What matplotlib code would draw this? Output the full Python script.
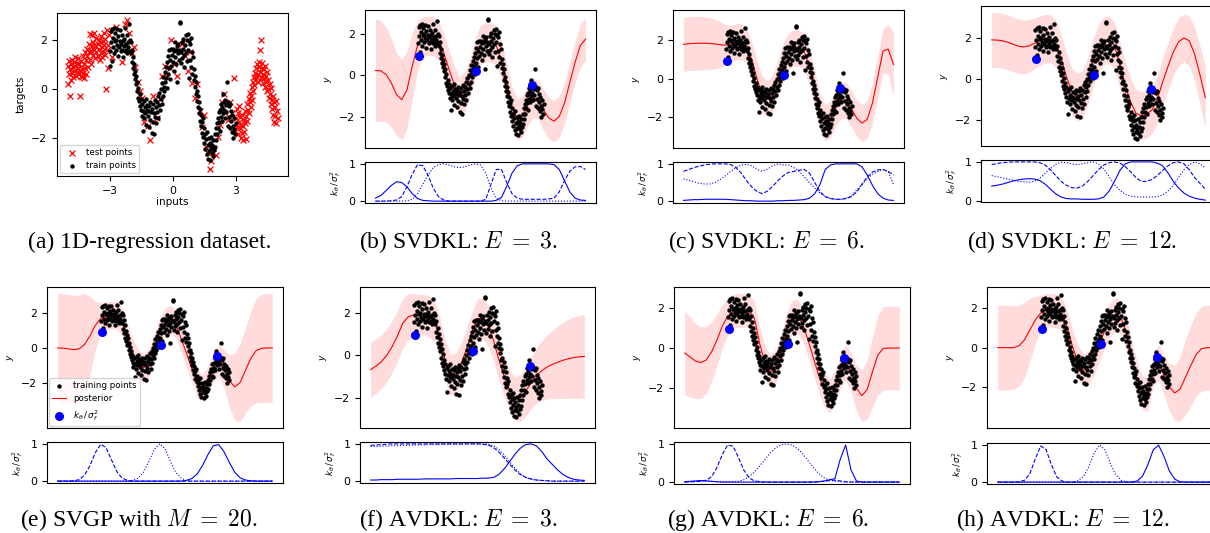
import matplotlib.pyplot as plt
import numpy as np

plt.rcParams['font.family'] = ['DejaVu Sans']
plt.rcParams['axes.linewidth'] = 0.8

W, H = 1210, 533

# common x grid of the GP curves
xs = np.linspace(-5, 5, 41)

# training data (black dots)
train_x = [-3.00, -2.98, -2.95, -2.93, -2.90, -2.88, -2.85, -2.83, -2.80, -2.78, -2.75, -2.72, -2.70, -2.68, -2.65, -2.62, -2.60, -2.58, -2.55, -2.52,
           -2.50, -2.47, -2.45, -2.42, -2.40, -2.37, -2.35, -2.32, -2.30, -2.27, -2.25, -2.22, -2.20, -2.17, -2.15, -2.12, -2.10, -2.07, -2.05, -2.02,
           -2.00, -1.97, -1.95, -1.92, -1.90, -1.87, -1.85, -1.82, -1.80, -1.77, -1.75, -1.72, -1.70, -1.67, -1.65, -1.62, -1.60, -1.57, -1.55, -1.52,
           -1.50, -1.47, -1.45, -1.42, -1.40, -1.37, -1.35, -1.32, -1.30, -1.27, -1.25, -1.22, -1.20, -1.17, -1.15, -1.12, -1.10, -1.07, -1.05, -1.02,
           -1.00, -0.97, -0.95, -0.92, -0.90, -0.87, -0.85, -0.82, -0.80, -0.77, -0.75, -0.72, -0.70, -0.67, -0.65, -0.62, -0.60, -0.57, -0.55, -0.52,
           -0.50, -0.47, -0.45, -0.42, -0.40, -0.37, -0.35, -0.32, -0.30, -0.27, -0.25, -0.22, -0.20, -0.17, -0.15, -0.12, -0.10, -0.07, -0.05, -0.02,
           0.00, 0.03, 0.05, 0.08, 0.10, 0.12, 0.15, 0.18, 0.20, 0.22, 0.25, 0.28, 0.30, 0.33, 0.35, 0.37, 0.40, 0.42, 0.45, 0.47,
           0.50, 0.52, 0.55, 0.57, 0.60, 0.62, 0.65, 0.67, 0.70, 0.72, 0.75, 0.77, 0.80,
           0.82, 0.85, 0.87, 0.90, 0.92, 0.95, 0.97, 1.00, 1.02, 1.05, 1.07, 1.10, 1.12, 1.15, 1.17, 1.20, 1.22, 1.25, 1.27, 1.30,
           1.32, 1.35, 1.37, 1.40, 1.42, 1.45, 1.47,
           1.50, 1.52, 1.55, 1.57, 1.60, 1.62, 1.65, 1.67, 1.70, 1.72, 1.75, 1.77, 1.80, 1.82, 1.85, 1.87, 1.90, 1.92, 1.95, 1.97,
           2.00, 2.02, 2.05, 2.07,
           2.10, 2.12, 2.15, 2.17, 2.20, 2.22, 2.25, 2.27, 2.30, 2.32, 2.35, 2.37, 2.40, 2.42, 2.45, 2.47, 2.50, 2.52, 2.55, 2.57,
           2.60, 2.62, 2.65, 2.67, 2.70, 2.72, 2.75, 2.77, 2.80, 2.82, 2.85, 2.87, 2.90, 2.92, 2.95, 2.97, 3.00]
train_y = [0.95, 1.55, 2.35, 1.9, 1.15, 2.45, 1.7, 2.1, 2.5, 1.45, 1.95, 2.3, 1.6, 2.0, 1.8, 2.45, 1.35, 2.15, 1.7, 1.95,
           2.4, 1.55, 1.85, 2.2, 1.6, 1.95, 1.3, 1.75, 2.05, 1.55, 2.5, 1.85, 1.6, 2.2, 1.45, 1.9, 1.7, 2.65, 1.55, 2.0,
           1.45, 1.9, 1.1, 1.6, 0.85, 1.3, 0.6, 1.0, 0.4, 0.75, 0.2, 0.55, -0.1, 0.3, -0.35, 0.05, -0.5, -0.2, -0.7, -0.4,
           -0.85, -1.1, -0.6, -1.7, -0.9, -0.5, -1.2, -0.75, -1.0, -0.4, -1.45, -0.85, -0.65, -1.1, -0.9, -1.55, -0.7, -1.25, -0.55, -0.95,
           -1.8, -0.8, -1.35, -0.6, -1.0, -1.85, -0.45, -1.15, -0.75, -1.4, -0.55, -0.95, -0.3, -1.2, -0.65, -0.15, -0.85, -0.4, 0.0, -0.6,
           0.25, -0.3, 0.5, 0.1, -0.1, 0.7, 0.3, 0.9, 0.45, 0.05, 1.1, 0.6, 1.35, 0.85, 1.6, 0.4, 1.2, 1.65, 0.95, 1.4,
           1.65, 1.1, 1.55, 0.75, 1.9, 1.3, 1.6, 1.0, 1.75, 0.3, 1.45, 1.85, 1.2, 1.6, 2.7, 2.75, 1.05, 1.5, 1.9, 1.25,
           1.65, 2.05, 1.4, 0.9, 1.8, 2.2, 1.5, 2.0, 1.15, 2.25, 1.6, 1.95, 0.45,
           1.85, 1.2, 2.1, 0.9, 1.5, 0.6, 1.3, 0.35, 0.8, 0.1, 0.55, -0.2, 0.3, -0.5, -0.1, -0.75, -0.3, -1.0, -0.55, -1.3,
           -0.8, -1.5, -1.05, -1.35, -1.8, -1.2, -1.95,
           -1.6, -2.2, -1.85, -2.45, -2.05, -2.65, -1.75, -2.3, -2.85, -2.0, -2.55, -2.2, -2.9, -2.4, -1.95, -2.6, -2.3, -2.75, -2.1, -2.5,
           -1.85, -2.35, -1.6, -2.1,
           -1.4, -1.85, -1.2, -1.6, -0.95, -1.35, -1.7, -0.85, -1.15, -0.6, -1.3, -0.75, -0.2, -1.0, -0.55, -0.85, -0.45, -1.2, -0.65, -0.95,
           0.3, -0.55, -1.5, -0.7, -1.15, -0.6, -1.6, -0.9, -1.3, -1.75, -1.05, -1.5, -2.0, -1.2, -1.65, -1.85, -1.4]

# test data (red crosses)
test_x = [-5.00, -4.98, -4.95, -4.93, -4.90, -4.88, -4.85, -4.82, -4.80, -4.77, -4.75, -4.72, -4.70, -4.67, -4.65, -4.62, -4.60, -4.57, -4.55, -4.52,
          -4.50, -4.47, -4.45, -4.42, -4.40, -4.37, -4.35, -4.32, -4.30, -4.27, -4.25, -4.22, -4.20, -4.17, -4.15, -4.12, -4.10, -4.07, -4.05, -4.02,
          -4.00, -3.97, -3.95, -3.92, -3.90, -3.87, -3.85, -3.82, -3.80, -3.77, -3.75, -3.72, -3.70, -3.67, -3.65, -3.62, -3.57, -3.55, -3.52, -3.50,
          -3.47, -3.45, -3.42, -3.40, -3.37, -3.35, -3.32, -3.30, -3.27, -3.25, -3.22, -3.20, -3.16, -3.12, -3.10, -3.07, -3.05, -3.02,
          -2.90, -2.70, -2.40, -2.25, -2.15, -2.05, -1.95, -1.85, -1.78, -1.65, -1.55, -1.45, -1.35, -1.15, -1.05, -0.95, -0.75, -0.60, -0.50, -0.35,
          -0.25, -0.10, -0.05, 0.05, 0.20, 0.30, 0.45, 0.60, 0.75, 0.85, 0.95, 1.05, 1.15, 1.30, 1.40, 1.50, 1.60, 1.70, 1.78, 1.85,
          1.95, 2.05, 2.15, 2.25, 2.35, 2.45, 2.50, 2.62, 2.75, 2.85, 2.95, 2.98,
          3.02, 3.05, 3.07, 3.10, 3.12, 3.15, 3.17, 3.20, 3.22, 3.25, 3.27, 3.30, 3.32, 3.35, 3.37, 3.40, 3.42, 3.45, 3.47, 3.50,
          3.52, 3.55, 3.57, 3.60, 3.62, 3.65, 3.67, 3.70, 3.72, 3.75, 3.77, 3.80, 3.82, 3.85, 3.87, 3.90, 3.92, 3.95, 3.97, 4.00,
          4.02, 4.05, 4.07, 4.10, 4.12, 4.15, 4.17, 4.20, 4.22, 4.25, 4.27, 4.30, 4.32, 4.35, 4.37, 4.40, 4.42, 4.45, 4.47, 4.50,
          4.52, 4.55, 4.57, 4.60, 4.62, 4.65, 4.67, 4.70, 4.72, 4.75, 4.77, 4.80, 4.82, 4.85, 4.87, 4.90, 4.92, 4.95, 4.97, 5.00]
test_y = [0.2, 0.95, 0.6, 1.15, -0.3, 0.8, 0.35, 1.0, 0.65, 1.2, 0.9, 0.5, 1.1, 0.75, 1.3, 0.95, 0.55, 1.05, 0.7, 1.25,
          0.85, 0.6, 1.0, -0.3, 0.75, 0.55, 1.15, 0.8, 0.5, 1.35, 0.65, 1.0, 0.45, 1.5, 0.85, 1.2, 0.6, 1.65, 1.35, 0.9,
          1.5, 1.85, 1.2, 2.25, 1.55, 1.0, 1.75, 2.2, 1.4, 1.9, 1.6, 2.3, 1.25, 1.75, 2.1, 1.5, 1.85, 1.35, 2.0, 1.65,
          1.2, 1.9, 1.45, 2.15, 1.7, 1.3, 1.95, 1.55, 2.3, 1.8, 1.4, 2.05, 0.0, 1.6, 2.4, 0.85, 1.8, 2.2,
          1.3, 2.55, 1.1, 2.65, 2.8, 2.3, 1.45, 1.7, 0.9, 0.3, -0.1, -0.35, -1.35, -1.5, -2.1, -0.3, -1.2, -0.4, 0.55, 0.95,
          0.5, 0.85, 2.0, 1.0, 0.55, 1.55, 1.85, 1.35, 0.75, 1.5, 0.25, -0.35, 0.2, -0.9, -1.55, -1.05, -2.35, -2.6, -3.25, -2.95,
          -2.4, -2.7, -1.95, -1.45, -0.55, -0.2, -1.0, -1.25, -0.55, -1.0, 0.45, -1.7,
          -1.2, -0.8, -1.55, -1.0, -1.85, -1.35, -0.7, -1.6, -1.15, -2.0, -1.45, -1.8, -1.05, -2.1, -1.5, -1.25, -1.75, -0.9, -1.4, -2.05,
          -1.1, -0.6, -1.3, -0.85, -0.4, -1.0, -0.55, -0.15, -0.75, -0.3, 0.1, -0.45, 0.3, -0.1, 0.5, 0.15, 0.65, 0.35, 0.85, 0.5,
          1.0, 0.6, 0.3, 0.9, 1.1, 0.7, 1.6, 2.0, 0.45, 0.85, 1.05, 0.6, 0.25, 0.8, 0.45, 0.95, 0.1, 0.55, 0.3, 0.7,
          -0.1, 0.35, 0.0, -0.35, 0.2, -0.2, -0.6, 0.05, -0.45, -0.8, -0.3, -1.05, -0.55, -1.35, -0.75, -1.1, -0.5, -1.4, -0.9, -1.2]

# inducing / feature points (blue)
ind_x = [-2.92, -0.2, 2.44]
ind_y = [0.95, 0.2, -0.49]

# ---- (b) SVDKL E=3
mean_b = [0.24, 0.22, 0.05, -0.36, -0.93, -1.18, -0.7, 0.45, 1.45,
          1.85, 1.92, 1.9, 1.68, 1.1, 0.3, -0.45, -1.0, -0.8, -0.1, 0.85, 1.5,
          1.6, 1.6, 1.45, 0.7, -0.35, -1.5, -2.15, -2.0, -1.42, -1.1, -1.18, -1.67,
          -2.07, -2.22, -2.0, -1.34, -0.36, 0.62, 1.44, 1.76]
sd_b = [2.5, 2.45, 2.3, 2.15, 2.0, 1.95, 1.9, 1.6, 1.2,
        1.0, 0.95, 0.95, 0.95, 0.95, 0.95, 0.95, 0.95, 0.95, 0.95, 0.95, 0.95,
        0.95, 0.95, 0.95, 0.95, 0.95, 0.95, 1.0, 1.0, 1.0, 0.95, 0.95, 1.0,
        1.0, 1.0, 1.0, 1.0, 1.0, 1.02, 1.05, 1.05]
ks_b = [0.08, 0.15, 0.28, 0.42, 0.52, 0.5, 0.38, 0.2, 0.07,
        0.02, 0.01, 0, 0, 0, 0, 0, 0, 0, 0, 0, 0,
        0, 0, 0.02, 0.1, 0.4, 0.75, 0.95, 1.0, 1.0, 1.0, 1.0, 1.0,
        1.0, 0.98, 0.85, 0.55, 0.25, 0.08, 0.03, 0.02]
kd_b = [0, 0, 0, 0.01, 0.03, 0.12, 0.39, 0.72, 0.98,
        0.95, 0.7, 0.35, 0.12, 0.03, 0, 0, 0, 0, 0, 0, 0,
        0.05, 0.45, 0.85, 0.85, 0.5, 0.2, 0.08, 0.05, 0.05, 0.05, 0.05, 0.05,
        0.06, 0.08, 0.25, 0.55, 0.8, 0.92, 0.93, 0.85]
kt_b = [0, 0, 0, 0, 0, 0, 0.01, 0.05, 0.2,
        0.45, 0.7, 0.9, 0.98, 1.0, 0.97, 0.92, 0.9, 0.92, 0.97, 1.0, 0.97,
        0.75, 0.35, 0.07, 0.01, 0, 0, 0, 0, 0, 0, 0, 0,
        0, 0, 0, 0, 0, 0, 0, 0]

# ---- (c) SVDKL E=6
mean_c = [1.8, 1.83, 1.85, 1.86, 1.86, 1.85, 1.82, 1.78, 1.76,
          1.82, 1.93, 1.95, 1.75, 1.0, 0.0, -0.8, -1.05, -0.75, 0.1, 0.9, 1.45,
          1.6, 1.6, 1.4, 0.6, -0.5, -1.7, -2.3, -2.1, -1.5, -1.1, -1.15, -1.55,
          -2.05, -2.3, -2.1, -1.25, 0.1, 1.45, 1.55, 0.75]
sd_c = [1.4, 1.4, 1.4, 1.4, 1.38, 1.35, 1.3, 1.2, 1.05,
        0.95, 0.95, 0.95, 0.95, 0.95, 0.95, 0.95, 0.95, 0.95, 0.95, 0.95, 0.95,
        0.95, 0.95, 0.95, 0.95, 0.95, 0.95, 0.95, 0.95, 0.95, 0.95, 0.95, 0.95,
        0.95, 0.97, 1.0, 1.05, 1.1, 1.15, 1.3, 1.65]
ks_c = [0.02, 0.03, 0.04, 0.04, 0.05, 0.05, 0.05, 0.05, 0.05,
        0.04, 0.03, 0.02, 0.01, 0.01, 0, 0, 0, 0, 0.01, 0.01, 0.02,
        0.02, 0.03, 0.04, 0.08, 0.2, 0.45, 0.85, 0.97, 1.0, 1.0, 1.0, 1.0,
        1.0, 0.92, 0.7, 0.42, 0.2, 0.08, 0.03, 0.02]
kd_c = [0.8, 0.85, 0.9, 0.94, 0.97, 0.99, 1.0, 1.0, 1.0,
        0.98, 0.9, 0.75, 0.55, 0.38, 0.26, 0.2, 0.27, 0.4, 0.55, 0.68, 0.77,
        0.8, 0.83, 0.85, 0.75, 0.5, 0.25, 0.12, 0.07, 0.05, 0.05, 0.07, 0.12,
        0.25, 0.45, 0.65, 0.78, 0.84, 0.85, 0.8, 0.7]
kt_c = [0.6, 0.56, 0.52, 0.48, 0.46, 0.46, 0.5, 0.58, 0.68,
        0.8, 0.9, 0.97, 0.99, 0.95, 0.85, 0.8, 0.86, 0.95, 1.0, 0.97, 0.97,
        0.9, 0.8, 0.65, 0.5, 0.35, 0.22, 0.12, 0.07, 0.05, 0.05, 0.08, 0.15,
        0.3, 0.45, 0.6, 0.72, 0.8, 0.85, 0.78, 0.45]

# ---- (d) SVDKL E=12
mean_d = [1.89, 1.88, 1.85, 1.78, 1.68, 1.58, 1.55, 1.6, 1.72,
          1.85, 1.95, 1.95, 1.7, 1.0, 0.1, -0.6, -0.9, -0.75, -0.1, 0.8, 1.5,
          1.85, 1.9, 1.6, 0.7, -0.3, -1.1, -1.65, -1.78, -1.7, -1.5, -1.0, -0.15,
          0.6, 1.3, 1.8, 1.98, 1.85, 1.2, 0.2, -0.9]
sd_d = [1.33, 1.33, 1.33, 1.32, 1.32, 1.32, 1.3, 1.27, 1.22,
        1.2, 1.18, 1.15, 1.15, 1.15, 1.15, 1.15, 1.15, 1.15, 1.15, 1.15, 1.15,
        1.15, 1.15, 1.15, 1.15, 1.15, 1.15, 1.15, 1.15, 1.15, 1.15, 1.15, 1.15,
        1.15, 1.15, 1.15, 1.15, 1.2, 1.3, 1.4, 1.5]
ks_d = [0.38, 0.4, 0.43, 0.47, 0.51, 0.54, 0.56, 0.57, 0.56,
        0.52, 0.43, 0.3, 0.18, 0.1, 0.06, 0.05, 0.05, 0.04, 0.04, 0.04, 0.05,
        0.1, 0.25, 0.5, 0.78, 0.95, 1.0, 1.0, 1.0, 1.0, 1.0, 0.97, 0.9,
        0.72, 0.5, 0.33, 0.2, 0.12, 0.07, 0.04, 0.02]
kd_d = [0.93, 0.96, 0.98, 0.99, 1.0, 1.0, 1.0, 1.0, 1.0,
        0.98, 0.92, 0.8, 0.65, 0.5, 0.4, 0.34, 0.33, 0.38, 0.5, 0.65, 0.8,
        0.92, 0.98, 1.0, 0.97, 0.88, 0.75, 0.6, 0.5, 0.5, 0.55, 0.65, 0.78,
        0.9, 0.98, 1.0, 0.95, 0.8, 0.6, 0.45, 0.3]
kt_d = [0.65, 0.62, 0.59, 0.56, 0.53, 0.5, 0.49, 0.48, 0.5,
        0.58, 0.7, 0.83, 0.94, 0.99, 0.98, 0.95, 0.93, 0.95, 0.98, 1.0, 0.95,
        0.82, 0.62, 0.42, 0.27, 0.17, 0.12, 0.1, 0.1, 0.1, 0.1, 0.11, 0.15,
        0.25, 0.4, 0.6, 0.8, 0.93, 1.0, 0.95, 0.85]

# ---- (e) SVGP M=20
mean_e = [0.0, -0.01, -0.05, -0.1, -0.05, 0.2, 0.7, 1.3, 1.7,
          1.85, 1.9, 1.9, 1.5, 0.6, -0.3, -0.9, -1.15, -0.8, 0.0, 0.9, 1.5,
          1.65, 1.4, 0.55, -0.3, -1.2, -2.0, -2.35, -1.85, -1.1, -0.72, -1.2, -1.9,
          -2.25, -2.0, -1.3, -0.6, -0.15, -0.02, 0.0, 0.0]
sd_e = [3.14, 3.14, 3.14, 3.13, 3.1, 2.95, 2.3, 1.4, 0.9,
        0.8, 0.8, 0.8, 0.8, 0.8, 0.8, 0.8, 0.8, 0.8, 0.8, 0.8, 0.8,
        0.8, 0.8, 0.8, 0.8, 0.8, 0.8, 0.8, 0.8, 0.85, 0.9, 1.1, 1.5,
        1.95, 2.25, 2.45, 2.75, 3.0, 3.12, 3.14, 3.14]
ks_e = [0, 0, 0, 0, 0, 0, 0, 0, 0,
        0, 0, 0, 0, 0, 0, 0, 0, 0, 0, 0, 0,
        0, 0, 0, 0.02, 0.07, 0.19, 0.42, 0.71, 0.95, 0.98, 0.79, 0.5,
        0.24, 0.09, 0.03, 0.01, 0, 0, 0, 0]
kd_e = [0, 0, 0, 0.01, 0.04, 0.16, 0.41, 0.76, 0.99,
        0.9, 0.58, 0.26, 0.08, 0.02, 0, 0, 0, 0, 0, 0, 0,
        0, 0, 0, 0, 0, 0, 0, 0, 0, 0, 0, 0,
        0, 0, 0, 0, 0, 0, 0, 0]
kt_e = [0, 0, 0, 0, 0, 0, 0, 0, 0,
        0, 0, 0, 0, 0, 0.02, 0.08, 0.24, 0.53, 0.85, 1.0, 0.87,
        0.53, 0.24, 0.08, 0.02, 0, 0, 0, 0, 0, 0, 0, 0,
        0, 0, 0, 0, 0, 0, 0, 0]

# ---- (f) AVDKL E=3
mean_f = [-0.67, -0.5, -0.3, 0.0, 0.4, 0.9, 1.5, 1.8, 1.88,
          1.9, 1.9, 1.8, 1.55, 0.8, -0.3, -0.93, -0.8, -0.35, 0.35, 1.1, 1.7,
          1.75, 1.4, 0.7, -0.2, -1.0, -1.6, -2.0, -2.0, -1.7, -1.3, -0.95, -0.72,
          -0.55, -0.42, -0.32, -0.23, -0.16, -0.1, -0.07, -0.05]
sd_f = [1.29, 1.28, 1.26, 1.24, 1.22, 1.2, 1.15, 1.1, 1.0,
        0.95, 0.95, 0.95, 0.95, 0.95, 0.95, 0.95, 0.95, 0.95, 0.95, 0.95, 0.95,
        0.95, 0.95, 0.95, 0.95, 0.95, 0.95, 1.0, 1.1, 1.15, 1.2, 1.3, 1.4,
        1.5, 1.6, 1.7, 1.78, 1.85, 1.9, 1.94, 1.96]
ks_f = [0.03, 0.03, 0.04, 0.04, 0.04, 0.05, 0.05, 0.05, 0.05,
        0.05, 0.06, 0.06, 0.06, 0.06, 0.06, 0.06, 0.07, 0.07, 0.07, 0.07, 0.07,
        0.08, 0.08, 0.1, 0.18, 0.33, 0.52, 0.72, 0.88, 0.98, 1.0, 0.95, 0.8,
        0.6, 0.45, 0.3, 0.18, 0.1, 0.05, 0.03, 0.02]
kd_f = [0.96, 0.97, 0.98, 0.99, 1.0, 1.0, 1.0, 1.0, 1.0,
        1.0, 1.0, 1.0, 1.0, 1.0, 1.0, 1.0, 1.0, 1.0, 1.0, 1.0, 1.0,
        0.99, 0.97, 0.9, 0.78, 0.62, 0.46, 0.3, 0.18, 0.1, 0.06, 0.03, 0.02,
        0.01, 0, 0, 0, 0, 0, 0, 0]
kt_f = [0.93, 0.93, 0.94, 0.94, 0.95, 0.95, 0.96, 0.96, 0.97,
        0.97, 0.97, 0.98, 0.98, 0.98, 0.99, 0.99, 0.99, 0.99, 1.0, 1.0, 1.0,
        1.0, 0.99, 0.95, 0.85, 0.7, 0.52, 0.35, 0.2, 0.1, 0.05, 0.03, 0.02,
        0.01, 0, 0, 0, 0, 0, 0, 0]

# ---- (g) AVDKL E=6
mean_g = [-0.25, -0.45, -0.65, -0.73, -0.6, -0.2, 0.4, 1.1, 1.6,
          1.85, 1.9, 1.9, 1.88, 1.5, 0.2, -0.8, -1.2, -0.9, -0.1, 0.9, 1.55,
          1.6, 1.2, 0.4, -0.5, -1.4, -2.1, -2.4, -2.0, -1.2, -0.72, -1.2, -2.0,
          -2.4, -2.1, -1.2, -0.35, -0.02, 0.0, 0.0, 0.0]
sd_g = [2.1, 2.0, 1.9, 1.8, 1.7, 1.5, 1.3, 1.1, 0.95,
        0.85, 0.85, 0.85, 0.85, 0.85, 0.85, 0.85, 0.85, 0.85, 0.85, 0.85, 0.85,
        0.85, 0.85, 0.85, 0.85, 0.85, 0.85, 0.85, 0.85, 0.85, 0.9, 1.0, 1.15,
        1.3, 1.5, 1.75, 2.0, 2.1, 2.1, 2.1, 2.1]
ks_g = [0.01, 0.02, 0.03, 0.04, 0.03, 0.02, 0.01, 0, 0,
        0, 0, 0, 0, 0, 0, 0, 0, 0, 0, 0, 0,
        0, 0, 0, 0, 0.01, 0.03, 0.06, 0.09, 0.6, 0.97, 0.32, 0.03,
        0, 0, 0, 0, 0, 0, 0, 0]
kd_g = [0, 0.01, 0.01, 0.02, 0.05, 0.14, 0.38, 0.72, 0.97,
        0.94, 0.65, 0.32, 0.11, 0.03, 0.01, 0, 0, 0, 0, 0, 0,
        0, 0, 0, 0, 0.01, 0.02, 0.04, 0.05, 0.03, 0.01, 0, 0,
        0, 0, 0, 0, 0, 0, 0, 0]
kt_g = [0, 0.01, 0.02, 0.03, 0.03, 0.02, 0.01, 0.01, 0.01,
        0.01, 0.02, 0.06, 0.14, 0.27, 0.43, 0.6, 0.77, 0.9, 0.98, 1.0, 0.97,
        0.88, 0.74, 0.56, 0.38, 0.22, 0.11, 0.05, 0.02, 0.01, 0, 0, 0,
        0, 0, 0, 0, 0, 0, 0, 0]

# ---- (h) AVDKL E=12
mean_h = [0, 0, 0, 0, 0.1, 0.4, 0.9, 1.4, 1.75,
          1.9, 1.9, 1.85, 1.7, 1.0, 0.0, -0.75, -1.15, -1.0, -0.5, 0.2, 0.9,
          1.45, 1.7, 1.5, 0.7, -0.5, -1.6, -2.3, -2.4, -1.1, -0.75, -1.4, -2.0,
          -2.3, -2.1, -1.5, -0.9, -0.35, -0.05, 0, 0]
sd_h = [2.15, 2.15, 2.15, 2.12, 2.05, 1.9, 1.6, 1.2, 0.9,
        0.85, 0.85, 0.85, 0.85, 0.85, 0.85, 0.85, 0.85, 0.85, 0.85, 0.85, 0.85,
        0.85, 0.85, 0.85, 0.85, 0.85, 0.85, 0.85, 0.85, 0.85, 0.9, 1.0, 1.2,
        1.4, 1.65, 1.9, 2.05, 2.12, 2.15, 2.15, 2.15]
ks_h = [0, 0, 0, 0, 0, 0, 0, 0, 0,
        0, 0, 0, 0, 0, 0, 0, 0, 0, 0, 0, 0,
        0, 0, 0, 0, 0, 0.03, 0.16, 0.47, 0.87, 0.99, 0.69, 0.3,
        0.08, 0.01, 0, 0, 0, 0, 0, 0]
kd_h = [0, 0, 0, 0, 0.01, 0.05, 0.23, 0.62, 0.97,
        0.88, 0.47, 0.14, 0.03, 0, 0, 0, 0, 0, 0, 0, 0,
        0, 0, 0, 0, 0, 0, 0, 0, 0, 0, 0, 0,
        0, 0, 0, 0, 0, 0, 0, 0]
kt_h = [0, 0, 0, 0, 0, 0, 0, 0, 0,
        0, 0, 0, 0, 0, 0, 0.04, 0.15, 0.42, 0.78, 1.0, 0.86,
        0.5, 0.2, 0.05, 0.01, 0, 0, 0, 0, 0, 0, 0, 0,
        0, 0, 0, 0, 0, 0, 0, 0]

captions = ['(a) 1D-regression dataset.', r'(b) SVDKL: $E\;=\;3$.', r'(c) SVDKL: $E\;=\;6$.', r'(d) SVDKL: $E\;=\;12$.',
            r'(e) SVGP with $M\;=\;20$.', r'(f) AVDKL: $E\;=\;3$.', r'(g) AVDKL: $E\;=\;6$.', r'(h) AVDKL: $E\;=\;12$.']


def box(l, t, r, b):
    # pixel box -> figure fraction
    return [l / W, 1 - b / H, (r - l) / W, (b - t) / H]


fig = plt.figure(figsize=(W / 100, H / 100), dpi=100)
TICK = 7.8

# (a) dataset
ax = fig.add_axes(box(57, 13, 288, 176))
ax.scatter(test_x, test_y, marker='x', color='red', s=18, linewidths=0.9, label='test points')
ax.scatter(train_x, train_y, color='black', s=10, linewidths=0, label='train points')
ax.set_xticks([-3, 0, 3])
ax.set_yticks([-2, 0, 2])
ax.tick_params(labelsize=TICK)
ax.set_xlabel('inputs', fontsize=7.5, labelpad=1)
ax.set_ylabel('targets', fontsize=7.5)
ax.legend(loc='lower left', fontsize=6.3, handletextpad=0.6, borderaxespad=0.3, labelspacing=0.4)


def gp_panel(top, bot, mean, sd, ks, kd, kt, legend=False):
    mean = np.array(mean)
    sd = np.array(sd)
    ax = fig.add_axes(box(*top))
    ax.fill_between(xs, mean - sd, mean + sd, color='red', alpha=0.14, lw=0)
    ln, = ax.plot(xs, mean, color='red', lw=0.8, label='posterior')
    tp = ax.scatter(train_x, train_y, color='black', s=10, linewidths=0, zorder=3, label='training points')
    ip = ax.scatter(ind_x, ind_y, color='blue', s=42, linewidths=0, zorder=4, label=r'$k_\theta\,/\,\sigma_f^2$')
    ax.set_xticks([])
    ax.set_yticks([-2, 0, 2])
    ax.tick_params(labelsize=TICK)
    ax.set_ylabel('$y$', fontsize=6.5)
    if legend:
        ax.legend(handles=[tp, ln, ip], loc='lower left', fontsize=6.3, borderaxespad=0.2,
                  labelspacing=0.5, handlelength=1.6)
    kx = fig.add_axes(box(*bot))
    kx.plot(xs, ks, color='blue', ls='-', lw=0.8)
    kx.plot(xs, kd, color='blue', ls='--', lw=0.8)
    kx.plot(xs, kt, color='blue', ls=':', lw=0.8)
    kx.set_xlim(ax.get_xlim())
    kx.set_xticks([])
    kx.set_yticks([0, 1])
    kx.tick_params(labelsize=TICK)
    kx.set_ylabel(r'$k_\theta\,/\,\sigma_f^2$', fontsize=6.3)


gp_panel((365, 10, 596, 148), (365, 162, 596, 203), mean_b, sd_b, ks_b, kd_b, kt_b)
gp_panel((673, 10, 904, 148), (673, 162, 904, 203), mean_c, sd_c, ks_c, kd_c, kt_c)
gp_panel((981, 6, 1216, 146), (981, 160, 1216, 202), mean_d, sd_d, ks_d, kd_d, kt_d)
gp_panel((47, 287, 283, 428), (47, 442, 283, 483), mean_e, sd_e, ks_e, kd_e, kt_e, legend=True)
gp_panel((360, 287, 595, 428), (360, 442, 595, 483), mean_f, sd_f, ks_f, kd_f, kt_f)
gp_panel((674, 287, 910, 428), (674, 442, 910, 484), mean_g, sd_g, ks_g, kd_g, kt_g)
gp_panel((987, 287, 1223, 428), (987, 443, 1223, 484), mean_h, sd_h, ks_h, kd_h, kt_h)

# captions
cap_pos = [(150, 242), (458, 242), (766, 242), (1072, 242),
           (139, 520), (458, 520), (768, 520), (1063, 520)]
for (cx, cy), txt in zip(cap_pos, captions):
    fig.text(cx / W, 1 - cy / H, txt, ha='center', va='center', fontsize=17,
             family='Liberation Serif', math_fontfamily='cm')

fig.savefig('out.png', dpi=100)
